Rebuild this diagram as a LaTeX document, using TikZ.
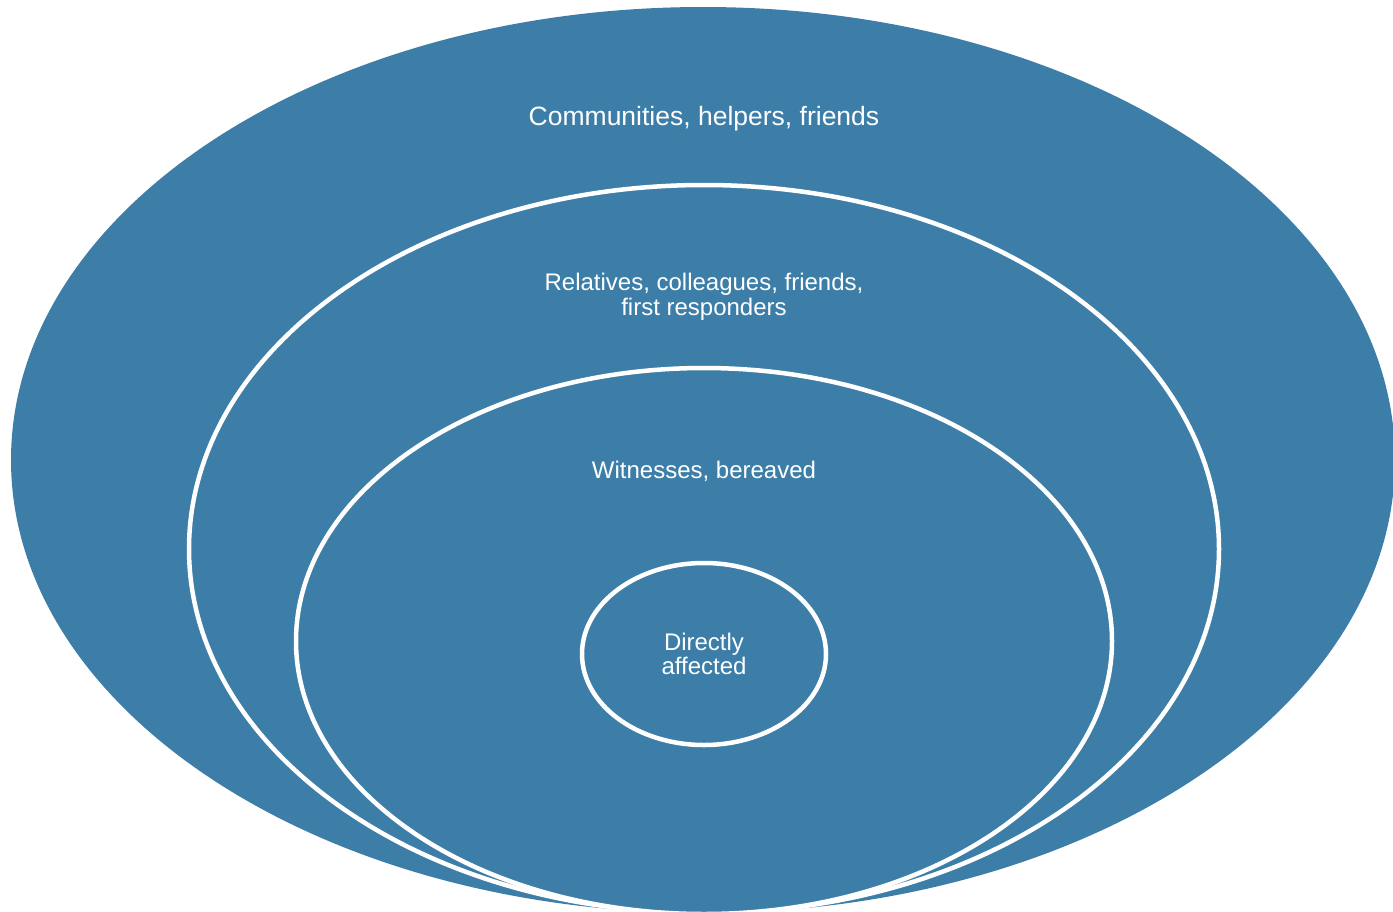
\documentclass[tikz,border=0pt]{standalone}
\usepackage{fontspec}
\setmainfont{Liberation Sans}
\usetikzlibrary{shapes.geometric, positioning}
\definecolor{ringblue}{RGB}{60,126,168}

\begin{document}
\begin{tikzpicture}[x=1pt, y=-1pt,
  ring/.style={ellipse, fill=ringblue, draw=white, line width=4.5pt, inner sep=0pt},
  lbl/.style={align=center, text=white, font=\fontsize{24}{24.5}\selectfont}]
\useasboundingbox (0,0) rectangle (1393,911);
\node[ring, draw=none, minimum width=1384pt, minimum height=906pt] (outer) at (703,460) {};
\node[ring, minimum width=1030pt, minimum height=728pt] (second) at (704,549) {};
\node[ring, minimum width=816pt, minimum height=546pt] (third) at (704,641) {};
\node[ring, minimum width=244pt, minimum height=182pt] (inner) at (704,654) {};
\node[lbl, font=\fontsize{26.5}{27}\selectfont] (comm) at (704,119) {Communities, helpers, friends};
\node[lbl] (rel) at (704,297) {Relatives, colleagues, friends,\\first responders};
\node[lbl] (wit) at (704,471) {Witnesses, bereaved};
\node[lbl] (dir) at (704,654) {Directly\\affected};
\end{tikzpicture}
\end{document}
